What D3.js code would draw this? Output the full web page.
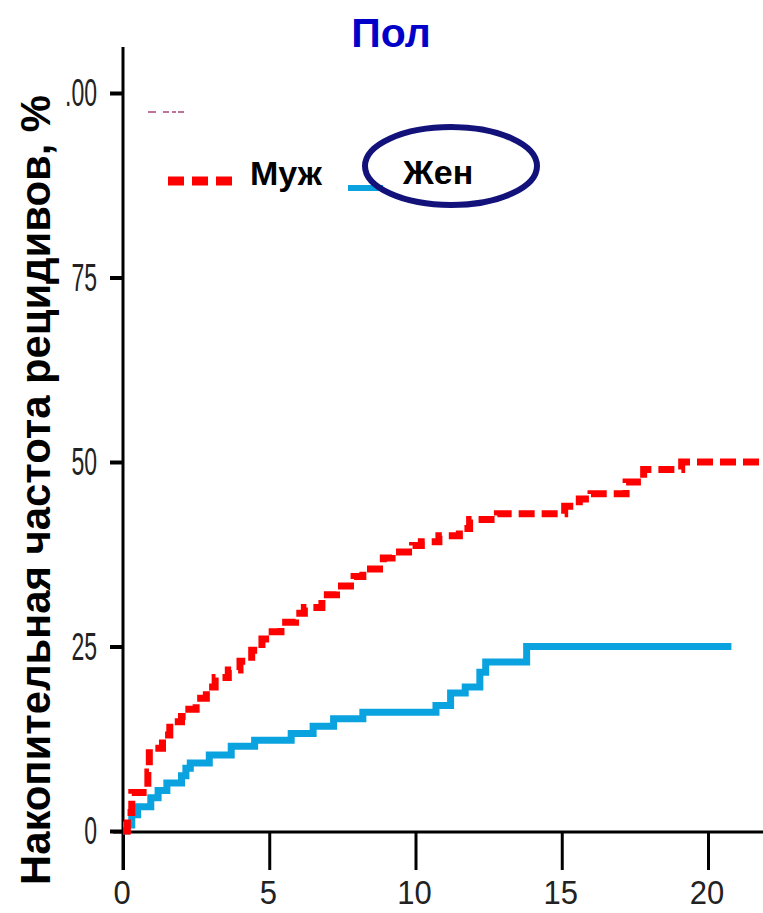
<!DOCTYPE html>
<html>
<head>
<meta charset="utf-8">
<script src="https://cdn.jsdelivr.net/npm/d3@7"></script>
<style>
  html, body { margin: 0; padding: 0; background: #fff; }
  svg { display: block; }
</style>
</head>
<body>
<svg id="chart" width="763" height="913"></svg>
<script>
// Cumulative recurrence rate by sex (years vs %)
const xTicks = [0, 5, 10, 15, 20];
const xTickLabels = ["0", "5", "10", "15", "20"];
const yTicks = [0, 25, 50, 75, 100];
const yTickLabels = ["0", "25", "50", "75", ".00"];

const seriesNames = ["Муж", "Жен"];

// Men: step times and cumulative rate after each step
const maleTime = [0, 0.15, 0.3, 0.85, 0.9, 1.35, 1.6, 2.0, 2.25, 2.5, 2.85, 3.15, 3.6, 4.0, 4.4, 4.75,
  5.1, 5.4, 5.9, 6.2, 6.8, 7.3, 7.9, 8.2, 8.9, 9.2, 9.9, 10.2, 10.8, 11.5, 11.85, 12.8,
  15.1, 15.6, 16.0, 17.2, 17.8, 19.1, 21.9];
const maleRate = [0, 2.5, 5.2, 8, 11.2, 13, 14.8, 15.5, 16.5, 18, 19.5, 20.8, 21.8, 23, 24.5, 26,
  27, 28.3, 29.5, 30.3, 32, 33.2, 34.5, 35.5, 37, 37.8, 38.7, 39.2, 40, 41, 42.2, 43,
  44, 45, 45.7, 47.3, 49, 50, 50];

// Women
const femaleTime = [0, 0.12, 0.3, 0.5, 0.95, 1.2, 1.5, 2.0, 2.15, 2.3, 2.95, 3.7, 4.5, 5.75,
  6.5, 7.2, 8.2, 10.7, 11.2, 11.7, 12.2, 12.4, 13.8, 20.8];
const femaleRate = [0, 0.8, 2.2, 3.3, 4.5, 5.5, 6.5, 7.5, 8.5, 9.2, 10.3, 11.5, 12.3, 13.2,
  14.2, 15.2, 16.1, 17, 18.7, 19.5, 21.5, 22.9, 25, 25];

const svg = d3.select("#chart");

const x = d3.scaleLinear().domain([0, 20]).range([123, 708]);
const y = d3.scaleLinear().domain([0, 100]).range([831, 93]);

const labelFont = "'Liberation Sans Narrow', 'Liberation Sans', 'DejaVu Sans Condensed', sans-serif";
const boldFont = "'Liberation Sans', Arial, sans-serif";

// Title
svg.append("text")
  .attr("x", 391).attr("y", 47)
  .attr("text-anchor", "middle")
  .attr("font-family", boldFont)
  .attr("font-weight", "bold")
  .attr("font-size", 41)
  .attr("fill", "#0000c8")
  .text("Пол");

// Y axis title
svg.append("text")
  .attr("transform", "translate(50,885) rotate(-90)")
  .attr("font-family", labelFont)
  .attr("font-weight", "bold")
  .attr("font-size", 42)
  .attr("fill", "#000")
  .attr("textLength", 790)
  .attr("lengthAdjust", "spacingAndGlyphs")
  .text("Накопительная частота рецидивов, %");

// Axes
const xAxis = d3.axisBottom(x).tickValues(xTicks).tickSize(38).tickFormat("");
const gx = svg.append("g").attr("transform", "translate(0,832)").call(xAxis);
gx.select(".domain").remove();
gx.selectAll(".tick line").attr("stroke", "#000").attr("stroke-width", 3);

const yAxis = d3.axisLeft(y).tickValues(yTicks).tickSize(13).tickFormat("");
const gy = svg.append("g").attr("transform", "translate(123,0)").call(yAxis);
gy.select(".domain").remove();
gy.selectAll(".tick line").attr("stroke", "#000").attr("stroke-width", 4);

svg.append("line").attr("x1", 123).attr("x2", 123).attr("y1", 47).attr("y2", 870)
  .attr("stroke", "#000").attr("stroke-width", 3);
svg.append("line").attr("x1", 113).attr("x2", 763).attr("y1", 832).attr("y2", 832)
  .attr("stroke", "#000").attr("stroke-width", 3);

// Tick labels (tall condensed digits)
svg.append("g").selectAll("text")
  .data(xTicks)
  .join("text")
  .attr("transform", d => `translate(${x(d) - 1},904) scale(1,1.1)`)
  .attr("text-anchor", "middle")
  .attr("font-family", labelFont)
  .attr("font-size", 31)
  .attr("fill", "#222")
  .text((d, i) => xTickLabels[i]);

svg.append("g").selectAll("text")
  .data(yTicks)
  .join("text")
  .attr("transform", d => `translate(97,${y(d) + 13}) scale(1,1.65)`)
  .attr("text-anchor", "end")
  .attr("font-family", labelFont)
  .attr("font-size", 23)
  .attr("fill", "#222")
  .text((d, i) => yTickLabels[i]);

// Curves
const line = d3.line()
  .x(d => x(d[0]))
  .y(d => y(d[1]))
  .curve(d3.curveStepAfter);

const male = maleTime.map((t, i) => [t, maleRate[i]]);
const female = femaleTime.map((t, i) => [t, femaleRate[i]]);

svg.append("path")
  .datum(female)
  .attr("d", line)
  .attr("fill", "none")
  .attr("stroke", "#0aa2df")
  .attr("stroke-width", 7);

svg.append("path")
  .datum(male)
  .attr("d", line)
  .attr("fill", "none")
  .attr("stroke", "#ff0000")
  .attr("stroke-width", 7)
  .attr("stroke-dasharray", "16,7");

// Legend
svg.append("line")
  .attr("x1", 148).attr("x2", 185).attr("y1", 112).attr("y2", 112)
  .attr("stroke", "#a8457a").attr("stroke-width", 1.6)
  .attr("stroke-dasharray", "8,7,6,3,4,2,6");

svg.append("line")
  .attr("x1", 168).attr("x2", 232).attr("y1", 181).attr("y2", 181)
  .attr("stroke", "#ff0000").attr("stroke-width", 9)
  .attr("stroke-dasharray", "16,8");

svg.append("text")
  .attr("x", 250).attr("y", 185)
  .attr("font-family", boldFont).attr("font-weight", "bold")
  .attr("font-size", 34).attr("fill", "#000")
  .text(seriesNames[0]);

svg.append("line")
  .attr("x1", 348).attr("x2", 383).attr("y1", 188).attr("y2", 188)
  .attr("stroke", "#0aa2df").attr("stroke-width", 6);

svg.append("ellipse")
  .attr("cx", 451).attr("cy", 166).attr("rx", 86).attr("ry", 39)
  .attr("fill", "none").attr("stroke", "#12127a").attr("stroke-width", 6);

svg.append("text")
  .attr("x", 403).attr("y", 184)
  .attr("font-family", boldFont).attr("font-weight", "bold")
  .attr("font-size", 34).attr("fill", "#000")
  .text(seriesNames[1]);
</script>
</body>
</html>
